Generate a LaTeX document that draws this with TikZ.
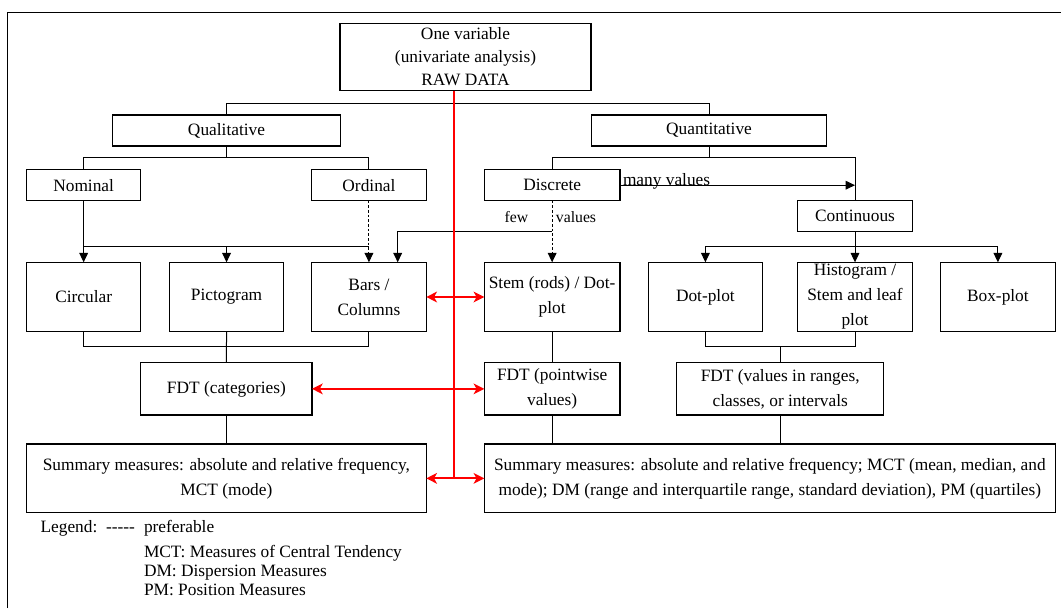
\documentclass[tikz,border=0pt]{standalone}
\usepackage{fontspec}
\setmainfont{Liberation Serif}
\usetikzlibrary{arrows.meta,calc}
\newcommand\bxfont{\fontsize{13}{18.75}\selectfont}
\newcommand\onefont{\fontsize{13}{17.2}\selectfont}
\newcommand\smlfont{\fontsize{11.8}{14}\selectfont}
\newcommand\legfont{\fontsize{13}{14}\selectfont}
\begin{document}
\begin{tikzpicture}[x=0.75pt,y=-0.75pt,
 bx/.style={draw, line width=0.8pt, inner sep=0pt, outer sep=0pt, align=center, font=\bxfont},
 sz/.style 2 args={minimum width={#1*0.75pt}, minimum height={#2*0.75pt}},
 ln/.style={line width=0.75pt},
 arr/.style={ln, -{Triangle[length=7pt,width=6.5pt]}},
 dsh/.style={dash pattern=on 2pt off 1.5pt},
 redln/.style={red, line width=1.6pt},
 redarr/.style={redln, {Stealth[length=8pt,width=8pt,inset=2.2pt]}-{Stealth[length=8pt,width=8pt,inset=2.2pt]}},
 lbl/.style={inner sep=0pt, outer sep=0pt},
]
\useasboundingbox (0,0) rectangle (1061,608);
% frame
\draw[line width=1.3pt] (7.6,608) -- (7.6,12.4) -- (1061,12.4);

% boxes
\node[bx,sz={251}{67.4},font=\onefont] (onevar) at (465.5,57) {One variable\\(univariate analysis)\\RAW DATA};
\node[bx,sz={228.3}{31}] (qual) at (226.5,130.5) {Qualitative};
\node[bx,sz={235.2}{31}] (quant) at (709,130.5) {Quantitative};
\node[bx,sz={114.3}{31}] (nominal) at (83.65,185.2) {Nominal};
\node[bx,sz={114.7}{31}] (ordinal) at (368.95,185.2) {Ordinal};
\node[bx,sz={135.7}{31}] (discrete) at (552.15,185.2) {Discrete};
\node[bx,sz={114.2}{31}] (continuous) at (855,216.2) {Continuous};
\node[bx,sz={114.3}{69.4}] (circular) at (83.65,297) {Circular};
\node[bx,sz={114.3}{69.4}] (pictogram) at (226.55,297) {Pictogram};
\node[bx,sz={114.7}{69.4}] (bars) at (368.95,297) {Bars /\\Columns};
\node[bx,sz={135.7}{69.4}] (stem) at (552.15,297) {Stem (rods) / Dot-\\plot};
\node[bx,sz={114.2}{69.4}] (dotplot) at (705.4,297) {Dot-plot};
\node[bx,sz={114.2}{69.4}] (histo) at (855,297) {Histogram /\\Stem and leaf\\plot};
\node[bx,sz={115}{69.4}] (boxplot) at (997.9,297) {Box-plot};
\node[bx,sz={171.2}{52.3}] (fdtcat) at (226.4,388.85) {FDT (categories)};
\node[bx,sz={135.7}{52.3}] (fdtpt) at (552.15,388.85) {FDT (pointwise\\values)};
\node[bx,sz={206.6}{52.3}] (fdtrng) at (780.2,388.85) {FDT (values in ranges,\\classes, or intervals};
\node[bx,sz={399.8}{68.7}] (sumL) at (226.4,478.35) {Summary measures: absolute and relative frequency,\\MCT (mode)};
\node[bx,sz={571.1}{68.7}] (sumR) at (769.85,478.35) {Summary measures: absolute and relative frequency; MCT (mean, median, and\\mode); DM (range and interquartile range, standard deviation), PM (quartiles)};

% level coordinates
\coordinate (topy) at (0,103.3);
\coordinate (lv1) at (0,157.7);
\coordinate (lv2) at (0,246.7);
\coordinate (lv3) at (0,231.7);
\coordinate (lv4) at (0,346.7);
\coordinate (bx2) at ($(bars.north)+(28.75,0)$);
\coordinate (rx) at (453.9,0);

% black connectors
\draw[ln] (qual.north) -- (qual.north |- topy) -- (quant.north |- topy) -- (quant.north);
\draw[ln] (qual.south) -- (qual.south |- lv1);
\draw[ln] (nominal.north) -- (nominal.north |- lv1) -- (ordinal.north |- lv1) -- (ordinal.north);
\draw[ln] (quant.south) -- (quant.south |- lv1);
\draw[ln] (discrete.north) -- (discrete.north |- lv1) -- (continuous.north |- lv1) -- (continuous.north);
\draw[arr] (discrete.east) -- (discrete.east -| continuous.north);
\node[lbl,anchor=base west,font=\fontsize{13}{14}\selectfont] (many) at (623,185.5) {many values};

\draw[arr] (nominal.south) -- (circular.north);
\draw[ln] (circular.north |- lv2) -- (bars.north |- lv2);
\draw[arr] (pictogram.north |- lv2) -- (pictogram.north);
\draw[arr,dsh] (ordinal.south) -- (bars.north);

\draw[arr,dsh] (discrete.south) -- (stem.north);
\draw[arr] (discrete.south |- lv3) -| (bx2);
\node[lbl,font=\smlfont] (few) at (516.5,216.7) {few};
\node[lbl,font=\smlfont] (values) at (576,216.7) {values};

\draw[arr] (continuous.south) -- (histo.north);
\draw[ln] (dotplot.north |- lv2) -- (boxplot.north |- lv2);
\draw[arr] (dotplot.north |- lv2) -- (dotplot.north);
\draw[arr] (boxplot.north |- lv2) -- (boxplot.north);

\draw[ln] (circular.south) -- (circular.south |- lv4) -- (bars.south |- lv4) -- (bars.south);
\draw[ln] (pictogram.south) -- (fdtcat.north);
\draw[ln] (stem.south) -- (fdtpt.north);
\draw[ln] (dotplot.south) -- (dotplot.south |- lv4) -- (histo.south |- lv4) -- (histo.south);
\draw[ln] (fdtrng.north |- lv4) -- (fdtrng.north);
\draw[ln] (fdtcat.south) -- (sumL.north);
\draw[ln] (fdtpt.south) -- (fdtpt.south |- sumR.north);
\draw[ln] (fdtrng.south) -- (fdtrng.south |- sumR.north);

% red connectors
\draw[redln] (onevar.south -| rx) -- (rx |- sumL.east);
\draw[redarr] (sumL.east) -- (sumR.west);
\draw[redarr] (bars.east) -- (stem.west);
\draw[redarr] (fdtcat.east) -- (fdtpt.west);

% legend
\node[lbl,anchor=base west,font=\legfont] (leg) at (40.6,532.3) {Legend:};
\node[lbl,anchor=base west,font=\legfont] (legdash) at (106,532.3) {-{}-{}-{}-{}-};
\node[lbl,anchor=base west,font=\legfont] (legpref) at (144,532.3) {preferable};
\node[lbl,anchor=base west,font=\legfont] (legmct) at (144,557.7) {MCT: Measures of Central Tendency};
\node[lbl,anchor=base west,font=\legfont] (legdm) at (144,576.7) {DM: Dispersion Measures};
\node[lbl,anchor=base west,font=\legfont] (legpm) at (144,595) {PM: Position Measures};
\end{tikzpicture}
\end{document}
